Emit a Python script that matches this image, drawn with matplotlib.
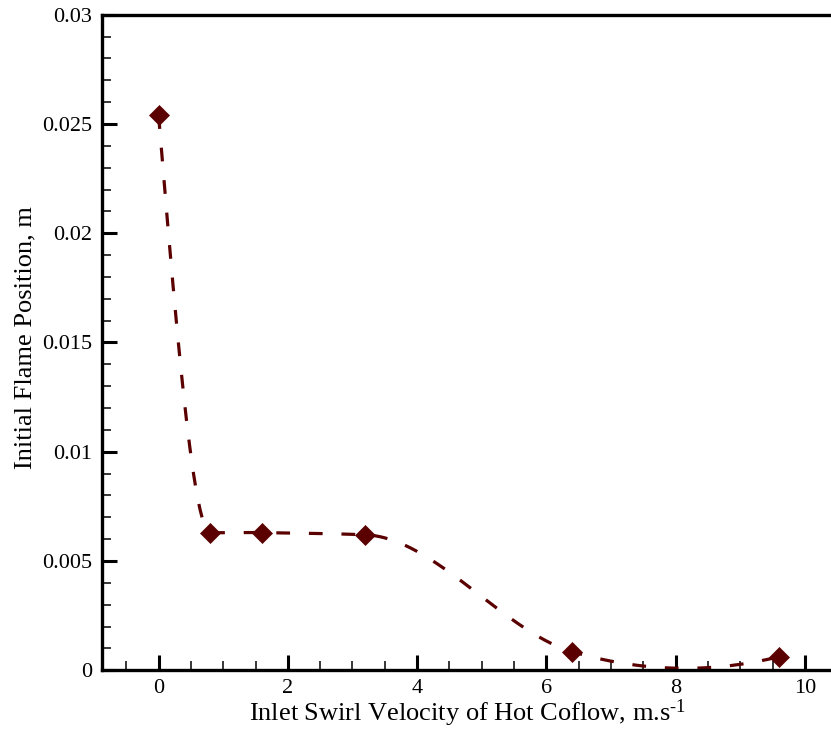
import numpy as np
import matplotlib
matplotlib.use("Agg")
import matplotlib.pyplot as plt
from matplotlib.ticker import MultipleLocator, FuncFormatter

# swirl velocity of hot coflow (m/s) vs. initial flame position (m)
swirl = [0.0, 0.8, 1.6, 3.2, 6.4, 9.6]
flame_pos = [0.0254, 0.0063, 0.0063, 0.0062, 0.00085, 0.00062]

line_color = "#5a0000"


def akima(x, y, xs):
    # Akima spline through the measured points (smooth curve fit)
    x = np.asarray(x, float)
    y = np.asarray(y, float)
    m = np.diff(y) / np.diff(x)
    m_l1 = 2 * m[0] - m[1]
    m_l2 = 2 * m_l1 - m[0]
    m_r1 = 2 * m[-1] - m[-2]
    m_r2 = 2 * m_r1 - m[-1]
    ext = np.concatenate([[m_l2, m_l1], m, [m_r1, m_r2]])
    t = np.zeros(len(x))
    for i in range(len(x)):
        w1 = abs(ext[i + 3] - ext[i + 2])
        w2 = abs(ext[i + 1] - ext[i])
        if w1 + w2 == 0:
            t[i] = 0.5 * (ext[i + 1] + ext[i + 2])
        else:
            t[i] = (w1 * ext[i + 1] + w2 * ext[i + 2]) / (w1 + w2)
    idx = np.clip(np.searchsorted(x, xs) - 1, 0, len(x) - 2)
    h = x[idx + 1] - x[idx]
    s = (xs - x[idx]) / h
    h00 = 2 * s**3 - 3 * s**2 + 1
    h10 = s**3 - 2 * s**2 + s
    h01 = -2 * s**3 + 3 * s**2
    h11 = s**3 - s**2
    return h00 * y[idx] + h10 * h * t[idx] + h01 * y[idx + 1] + h11 * h * t[idx + 1]


plt.rcParams['font.family'] = ['Liberation Serif', 'DejaVu Serif']
plt.rcParams['mathtext.fontset'] = 'custom'
plt.rcParams['mathtext.rm'] = 'Liberation Serif'
plt.rcParams['mathtext.it'] = 'Liberation Serif:italic'

fig = plt.figure(figsize=(8.31, 7.34), dpi=100)
ax = fig.add_axes([0.1224, 0.0868, 0.8812, 0.8932])

xs = np.linspace(swirl[0], swirl[-1], 600)
ax.plot(xs, akima(swirl, flame_pos, xs), color=line_color, lw=2.3,
        linestyle=(0, (4.3, 5.9)), zorder=2)
ax.plot(swirl, flame_pos, linestyle='none', marker='D', ms=10.5,
        color=line_color, mec=line_color, mew=0.5, zorder=3)

ax.set_xlim(-0.88, 10.45)
ax.set_ylim(0, 0.03)

ax.xaxis.set_major_locator(MultipleLocator(2))
ax.xaxis.set_minor_locator(MultipleLocator(0.5))
ax.yaxis.set_major_locator(MultipleLocator(0.005))
ax.yaxis.set_minor_locator(MultipleLocator(0.001))
ax.yaxis.set_major_formatter(FuncFormatter(lambda v, p: "%g" % round(v, 4)))

ax.tick_params(which='both', direction='in', top=False, right=False,
               labelsize=16)
ax.tick_params(which='major', length=11, width=2.2)
ax.tick_params(which='minor', length=6.8, width=1.1)
ax.tick_params(axis='y', pad=7)
ax.tick_params(axis='x', pad=6)

for side in ['left', 'bottom', 'top']:
    ax.spines[side].set_linewidth(2.4)
ax.spines['right'].set_visible(False)

ax.set_xlabel(r"Inlet Swirl Velocity of Hot Coflow, m.s$^{\text{-}1}$",
              fontsize=19, labelpad=0)
ax.set_ylabel("Initial Flame Position, m", fontsize=19, labelpad=4)
ax.yaxis.label.set_y(0.507)

fig.savefig("out.png", dpi=100)
